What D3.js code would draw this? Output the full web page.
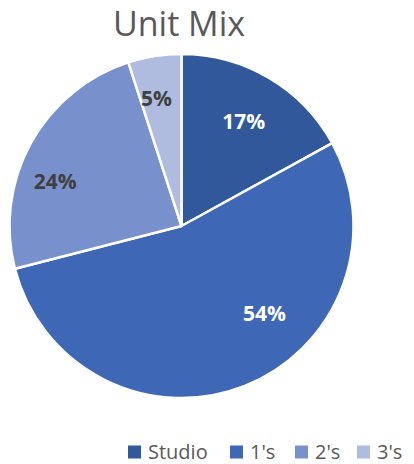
<!DOCTYPE html>
<html>
<head>
<meta charset="utf-8">
<script src="https://cdn.jsdelivr.net/npm/d3@7"></script>
<style>
  html, body { margin: 0; padding: 0; background: #fff; }
  svg { display: block; }
</style>
</head>
<body>
<svg id="chart" width="414" height="464"></svg>
<script>
// Unit mix by apartment type (share of units, %)
const categories = ["Studio", "1's", "2's", "3's"];
const shares = [17, 54, 24, 5];
const colors = ["#31589B", "#3E68B6", "#7891CD", "#B0BCDF"];
const labelColors = ["#ffffff", "#ffffff", "#404040", "#404040"];

const W = 414, H = 464;
const cx = 181.5, cy = 226, R = 172;

const svg = d3.select("#chart");

svg.append("text")
  .attr("x", 179).attr("y", 36)
  .attr("text-anchor", "middle")
  .attr("font-family", "'Open Sans', 'Noto Sans', sans-serif")
  .attr("font-size", 34)
  .attr("fill", "#595959")
  .text("Unit Mix");

const pie = d3.pie().sort(null).value(d => d.v);
const arcs = pie(categories.map((c, i) => ({ c, v: shares[i], i })));

const arc = d3.arc().innerRadius(0).outerRadius(R);

const g = svg.append("g").attr("transform", `translate(${cx},${cy})`);

g.selectAll("path.slice")
  .data(arcs)
  .join("path")
  .attr("class", "slice")
  .attr("d", arc)
  .attr("fill", d => colors[d.data.i])
  .attr("stroke", "#fff")
  .attr("stroke-width", 2.5)
  .attr("stroke-linejoin", "round");

// best-fit label placement: angular shift (deg) from slice middle and radius fraction
const labelShift = [0, -22, -9, -2];
const labelRadius = [0.71, 0.70, 0.78, 0.76];

g.selectAll("text.lbl")
  .data(arcs)
  .join("text")
  .attr("class", "lbl")
  .each(function (d) {
    const i = d.data.i;
    const a = (d.startAngle + d.endAngle) / 2 + labelShift[i] * Math.PI / 180;
    const r = R * labelRadius[i];
    d3.select(this)
      .attr("x", r * Math.sin(a))
      .attr("y", -r * Math.cos(a));
  })
  .attr("text-anchor", "middle")
  .attr("dominant-baseline", "central")
  .attr("font-family", "'Open Sans', 'Noto Sans', sans-serif")
  .attr("font-weight", "bold")
  .attr("font-size", 21)
  .attr("fill", d => labelColors[d.data.i])
  .text(d => d.data.v + "%");

// legend
const legendX = [128, 230, 295, 357];
const legend = svg.append("g");
categories.forEach((c, i) => {
  legend.append("rect")
    .attr("x", legendX[i]).attr("y", 445.5)
    .attr("width", 13).attr("height", 13)
    .attr("fill", colors[i]);
  legend.append("text")
    .attr("x", legendX[i] + 20).attr("y", 459)
    .attr("font-family", "'Open Sans', 'Noto Sans', sans-serif")
    .attr("font-size", 20)
    .attr("fill", "#595959")
    .text(c);
});
</script>
</body>
</html>
